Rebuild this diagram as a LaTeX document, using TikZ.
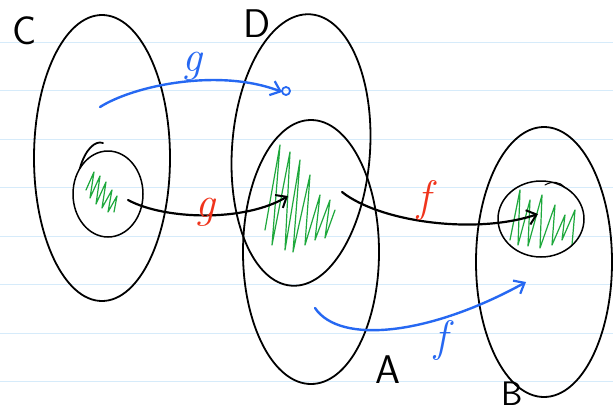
\documentclass[tikz,border=0pt]{standalone}
\usetikzlibrary{arrows.meta,shapes.geometric}
\definecolor{rulecol}{RGB}{214,235,250}
\definecolor{penblue}{RGB}{38,104,242}
\definecolor{penred}{RGB}{240,52,28}
\definecolor{pengreen}{RGB}{30,168,60}
\begin{document}
\begin{tikzpicture}[x=1pt,y=-1pt,line cap=round,line join=round,
  setshape/.style={draw=black,line width=1.8pt,ellipse,inner sep=0pt},
  ruleline/.style={draw=rulecol,line width=1pt},
  bluearrow/.style={draw=penblue,line width=2.4pt,-{Straight Barb[length=9pt,width=15pt,line width=2.2pt]}},
  blackarrow/.style={draw=black,line width=2.2pt,-{Straight Barb[length=9pt,width=15pt,line width=2pt]}},
  scribble/.style={draw=pengreen,line width=1.2pt},
  biglabel/.style={font=\sffamily\fontsize{40}{44}\selectfont,inner sep=0pt},
  maplabel/.style={font=\itshape\fontsize{44}{46}\selectfont,inner sep=0pt}]
\useasboundingbox (0,0) rectangle (613,416);
\fill[white] (0,0) rectangle (613,416);
% ruled paper
\foreach \yy in {42,90.5,139,187.5,236,284.5,333,381.5}
  \draw[ruleline] (0,\yy) -- (613,\yy);
% scribbles (filled regions)
\draw[scribble] (86,190) -- (94,172) -- (90,198) -- (100,176) -- (96,204) -- (106,182) -- (102,208) -- (112,190) -- (108,212) -- (117,196) -- (114,212);
\draw[scribble] (265,230) -- (280,145) -- (272,245) -- (290,152) -- (285,250) -- (300,160) -- (293,252) -- (310,175) -- (305,245) -- (320,195) -- (315,240) -- (330,200) -- (325,238) -- (335,210);
\draw[scribble] (510,240) -- (520,190) -- (518,245) -- (530,200) -- (528,246) -- (542,195) -- (540,248) -- (555,205) -- (552,245) -- (565,215) -- (562,240) -- (575,210) -- (572,245);
% sets
\node[setshape,minimum width=136pt,minimum height=286pt] (C) at (102,158) {};
\node[setshape,minimum width=138pt,minimum height=272pt,rotate=-4] (D) at (301,150) {};
\node[setshape,minimum width=136pt,minimum height=264pt] (A) at (311,252) {};
\node[setshape,minimum width=136pt,minimum height=270pt] (B) at (544,262) {};
\node[setshape,line width=1.5pt,minimum width=70pt,minimum height=86pt] (c) at (108,194) {};
\node[setshape,line width=1.5pt,minimum width=86pt,minimum height=76pt] (b) at (541,219) {};
\draw[line width=1.8pt] (103,143) .. controls (95,140) and (85,150) .. (80,168);
\draw[line width=1pt] (545,185) .. controls (552,181) and (560,181) .. (565,188);
% labels of sets
\node[biglabel] (lC) at (25,31) {C};
\node[biglabel] (lD) at (257,24) {D};
\node[biglabel] (lA) at (388,370) {A};
\node[biglabel,font=\sffamily\fontsize{34}{38}\selectfont] (lB) at (512,394) {B};
% arrows
\coordinate (g1s) at (100,107);
\coordinate (g1e) at (282,92);
\draw[bluearrow] (g1s) .. controls (135,85) and (220,68) .. (g1e);
\node[draw=penblue,line width=1.8pt,circle,minimum size=8pt,inner sep=0pt] (o) at (286,91) {};
\node[maplabel,text=penblue] (lg1) at (192,66) {g};
\coordinate (g2s) at (128,200);
\coordinate (g2e) at (288,196);
\draw[blackarrow] (g2s) .. controls (165,220) and (245,222) .. (g2e);
\node[maplabel,text=penred] (lg2) at (205,212) {g};
\coordinate (f1s) at (342,192);
\coordinate (f1e) at (538,214);
\draw[blackarrow] (f1s) .. controls (380,222) and (475,235) .. (f1e);
\node[maplabel,text=penred] (lf1) at (424,200) {f};
\coordinate (f2s) at (315,308);
\coordinate (f2e) at (526,282);
\draw[bluearrow] (f2s) .. controls (340,345) and (430,335) .. (f2e);
\node[maplabel,text=penblue] (lf2) at (441,340) {f};
\end{tikzpicture}
\end{document}
